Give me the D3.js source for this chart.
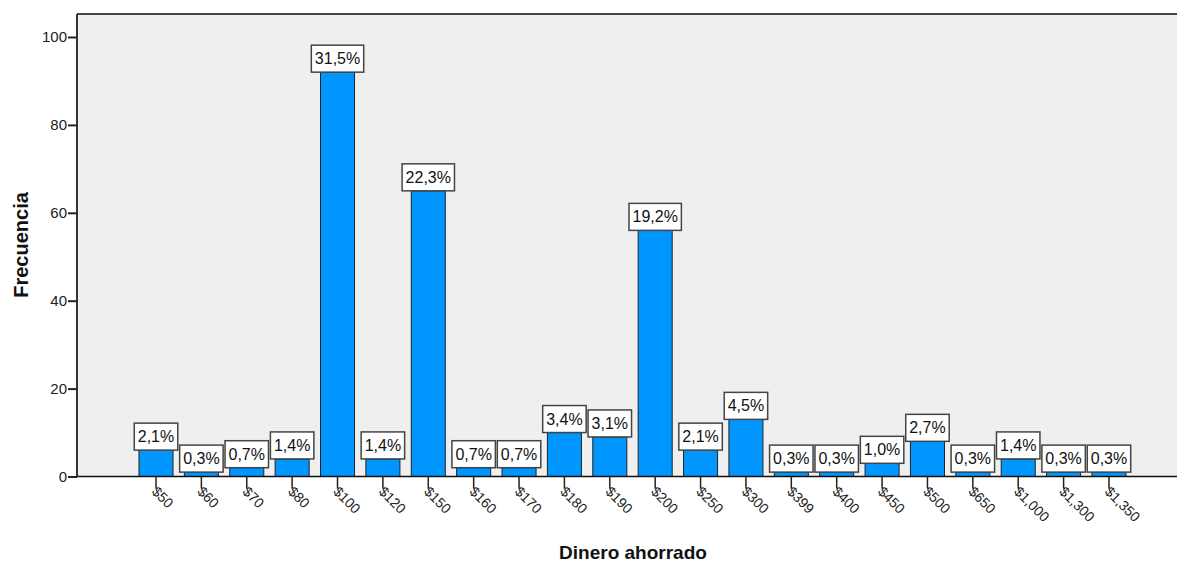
<!DOCTYPE html>
<html><head><meta charset="utf-8">
<script src="https://cdn.jsdelivr.net/npm/d3@7"></script>
<style>body{margin:0;background:#fff}svg{display:block;font-family:Arial,"Liberation Sans",sans-serif}</style>
</head><body>
<svg id="c" width="1177" height="563"></svg>
<script>
const categories = ["$50","$60","$70","$80","$100","$120","$150","$160","$170","$180","$190","$200","$250","$300","$399","$400","$450","$500","$650","$1,000","$1,300","$1,350"];
const frequencies = [6,1,2,4,92,4,65,2,2,10,9,56,6,13,1,1,3,8,1,4,1,1];
const percentLabels = ["2,1%","0,3%","0,7%","1,4%","31,5%","1,4%","22,3%","0,7%","0,7%","3,4%","3,1%","19,2%","2,1%","4,5%","0,3%","0,3%","1,0%","2,7%","0,3%","1,4%","0,3%","0,3%"];
const yTicks = [0,20,40,60,80,100];

const svg = d3.select("#c");
const plotL = 77, plotT = 14, plotR = 1177, y0 = 476.5;
const y = d3.scaleLinear().domain([0,100]).range([y0, 37]);
const step = 45.38;
const x = d3.scaleBand().domain(categories).range([156 - step/2, 156 - step/2 + step*categories.length]).paddingInner(0.25).paddingOuter(0.125);

svg.append("rect").attr("x", plotL).attr("y", plotT).attr("width", plotR - plotL).attr("height", y0 - plotT).attr("fill", "#efefef");
svg.append("line").attr("x1", plotL).attr("x2", plotR).attr("y1", plotT).attr("y2", plotT).attr("stroke", "#444").attr("stroke-width", 2);

// bars
svg.append("g").selectAll("rect").data(frequencies).join("rect")
  .attr("x", (d,i) => x(categories[i]))
  .attr("y", d => y(d))
  .attr("width", x.bandwidth())
  .attr("height", d => y(0) - y(d))
  .attr("fill", "#0096ff").attr("stroke", "#222").attr("stroke-width", 1);

// y axis
const yAxis = d3.axisLeft(y).tickValues(yTicks).tickSize(9).tickPadding(1);
const gy = svg.append("g").attr("transform", `translate(${plotL},0)`).call(yAxis);
gy.select(".domain").attr("d", `M0,${plotT}V${y0}`).attr("stroke", "#333").attr("stroke-width", 2);
gy.selectAll(".tick line").attr("stroke", "#222").attr("stroke-width", 2);
gy.selectAll(".tick text").attr("font-size", 15).attr("fill", "#222").attr("font-family", "Arial, 'Liberation Sans', sans-serif");

// x axis
const xAxis = d3.axisBottom(x).tickSize(12).tickSizeOuter(0);
const gx = svg.append("g").attr("transform", `translate(0,${y0})`).call(xAxis);
gx.select(".domain").attr("d", `M${plotL},0H${plotR}`).attr("stroke", "#111").attr("stroke-width", 1.5);
gx.selectAll(".tick line").attr("stroke", "#222").attr("stroke-width", 1.5);
gx.selectAll(".tick text")
  .attr("font-size", 14).attr("fill", "#222").attr("font-family", "Arial, 'Liberation Sans', sans-serif")
  .attr("text-anchor", "start").attr("dy", null).attr("y", 0)
  .attr("transform", "translate(-5,16) rotate(45)");

// value labels
const lg = svg.append("g");
frequencies.forEach((d,i) => {
  const cx = x(categories[i]) + x.bandwidth()/2;
  const top = y(d);
  const g = lg.append("g");
  const t = g.append("text").text(percentLabels[i]).attr("x", cx).attr("y", top - 8)
    .attr("text-anchor", "middle").attr("font-size", 16).attr("fill", "#111");
  const w = t.node().getComputedTextLength() + 7;
  g.insert("rect", "text").attr("x", cx - w/2).attr("y", top - 27).attr("width", w).attr("height", 27)
    .attr("fill", "#fff").attr("stroke", "#444").attr("stroke-width", 1.5);
});

// titles
svg.append("text").attr("x", 633).attr("y", 559).attr("text-anchor", "middle")
  .attr("font-size", 19).attr("font-weight", "bold").attr("fill", "#111").text("Dinero ahorrado");
svg.append("text").attr("transform", "translate(28,245) rotate(-90)").attr("text-anchor", "middle")
  .attr("font-size", 20).attr("font-weight", "bold").attr("fill", "#111").text("Frecuencia");
</script>
</body></html>
